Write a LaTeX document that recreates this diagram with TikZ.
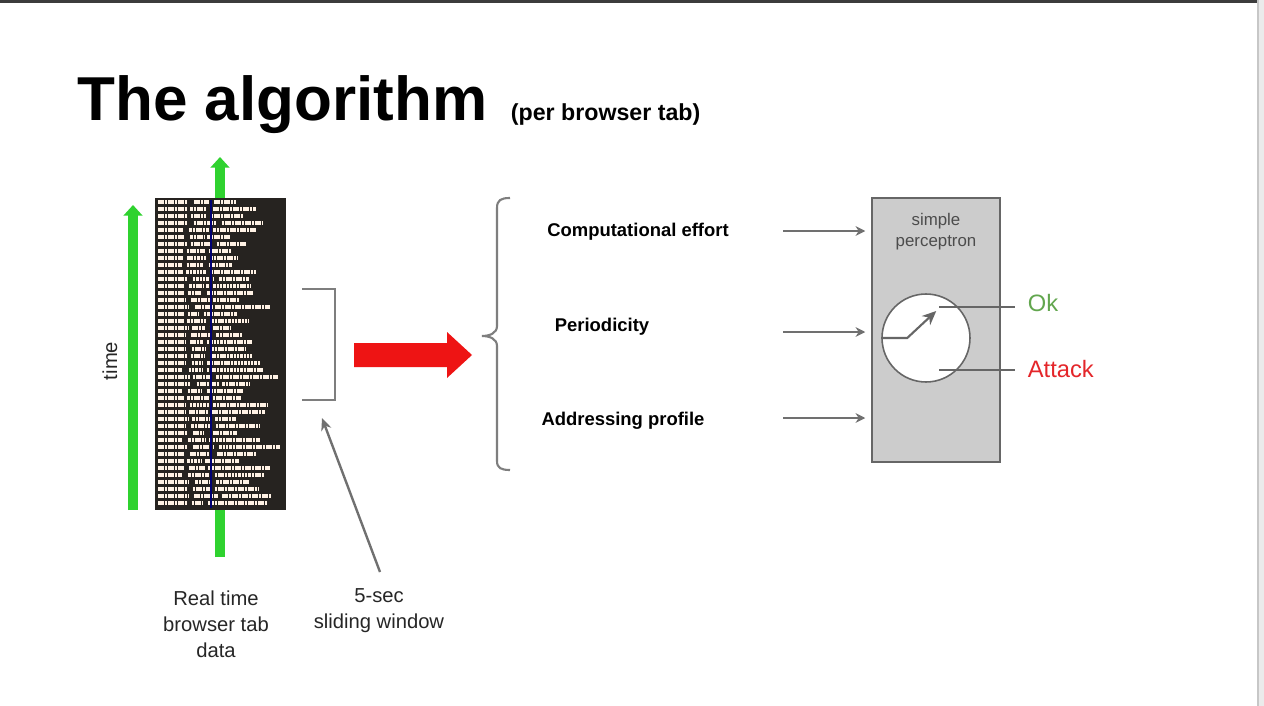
\documentclass[tikz,border=0pt]{standalone}
\usepackage{fontspec}
\setmainfont{Liberation Sans}
\usetikzlibrary{arrows.meta, positioning, calc}

\definecolor{barc}{HTML}{3C3C3C}
\definecolor{stripc}{HTML}{EBEBEB}
\definecolor{imgc}{HTML}{262320}
\definecolor{grnc}{HTML}{2FD22F}
\definecolor{redc}{HTML}{EE1414}
\definecolor{linec}{HTML}{707070}
\definecolor{boxc}{HTML}{CCCCCC}
\definecolor{okc}{HTML}{62A64E}
\definecolor{atkc}{HTML}{E4262A}

\begin{document}
\begin{tikzpicture}[x=0.02cm, y=-0.02cm, >={Stealth[round]},
      lbl/.style={font=\fontsize{11.5}{14.7}\selectfont, align=center, text=black!85},
      feat/.style={font=\bfseries\fontsize{10.5}{12}\selectfont},
      gline/.style={draw=linec, line width=1.35pt},
      garrow/.style={gline, -{Stealth[length=5.5pt, width=5.5pt]}, shorten >=3.4pt},
      brk/.style={draw=linec!90, line width=1.2pt},
      grnarrow/.style={draw=grnc, line width=5.2pt, -{Triangle[length=6pt, width=10.5pt]}},
      datatxt/.style={draw=white!90!orange, line width=2.5pt, dash pattern=on 1.5pt off 0.4pt},
      percbox/.style={draw=black!60, fill=boxc, line width=0.9pt, minimum width=2.56cm, minimum height=5.28cm},
      dial/.style={circle, draw=black!60, fill=white, line width=0.9pt, minimum size=1.76cm},
      outtxt/.style={font=\fontsize{13.5}{15}\selectfont, anchor=west, inner sep=2pt}]
  % frame of the slide
  \useasboundingbox (0,0) rectangle (1264,706);
  \fill[white] (0,0) rectangle (1264,706);
  \fill[barc] (0,0) rectangle (1258,3.5);
  \fill[stripc] (1258,0) rectangle (1264,706);
  \draw[black!22, line width=0.8pt] (1258,0) -- (1258,706);

  % title
  \node[anchor=base west, inner sep=0, font=\bfseries\fontsize{35.3}{40}\selectfont] (title) at (77,120) {The algorithm};
  \node[base right=13pt of title, inner sep=0, font=\bfseries\fontsize{13.2}{15}\selectfont] (subtitle) {(per browser tab)};

  % browser tab data
  \coordinate (time_lo) at (133,510);
  \coordinate (time_hi) at (133,205);
  \coordinate (tab_lo) at (220,557);
  \coordinate (tab_hi) at (220,157);
  \draw[grnarrow] (time_lo) -- (time_hi);
  \draw[grnarrow] (tab_lo) -- (tab_hi);
  \node[rotate=90, lbl] (time) at (110,361) {time};
  \node[fill=imgc, minimum width=2.62cm, minimum height=6.24cm, inner sep=0] (data) at (220.5,354) {};
  \begin{scope}
    \clip (data.north west) rectangle (data.south east);
    \pgfmathsetseed{11}
    \foreach \r in {0,...,43}{
      \pgfmathsetmacro{\yy}{202+7*\r}
      \pgfmathsetmacro{\xa}{182+8*rnd}
      \pgfmathsetmacro{\xb}{\xa+3+4*rnd}
      \pgfmathsetmacro{\xc}{\xb+10+14*rnd}
      \pgfmathsetmacro{\xd}{\xc+3+3*rnd}
      \pgfmathsetmacro{\xe}{\xd+20+42*rnd}
      \draw[datatxt] (158,\yy) -- (\xa,\yy) (\xb,\yy) -- (\xc,\yy) (\xd,\yy) -- (\xe,\yy);
    }
    \draw[blue!45!black, line width=0.8pt] (211,200) -- (211,508);
  \end{scope}
  \node[lbl] (rt_lbl) at (216,624) {Real time\\browser tab\\data};

  % sliding window
  \coordinate (win_t) at (302,289);
  \coordinate (win_b) at (302,400);
  \draw[brk] (win_t) -- ++(33,0) |- (win_b);
  \coordinate (ptr_tail) at (380,572);
  \coordinate (ptr_tip) at (322,418);
  \draw[gline, -{Stealth[length=7pt, width=6pt]}] (ptr_tail) -- (ptr_tip);
  \node[lbl] (win_lbl) at (379,611) {5-sec\\sliding window};

  % red arrow
  \fill[redc] (354,343) -- (447,343) -- (447,332) -- (472,355) -- (447,378) -- (447,367) -- (354,367) -- cycle;

  % features
  \draw[brk] (510,198) .. controls (501,198) and (497,200) .. (497,208) -- (497,326)
    .. controls (497,333) and (490,336) .. (482,336) .. controls (490,336) and (497,339) .. (497,346)
    -- (497,461) .. controls (497,468) and (501,470) .. (510,470);
  \node[feat] (f_ce) at (638,232) {Computational effort};
  \node[feat] (f_per) at (602,327) {Periodicity};
  \node[feat] (f_addr) at (623,421) {Addressing profile};

  % perceptron
  \node[percbox] (perc) at (936,330) {};
  \node[font=\fontsize{9.6}{11.9}\selectfont, text=black!70, align=center] (perc_lbl) at (936,232) {simple\\perceptron};
  \coordinate (in_1) at (783,231);
  \coordinate (in_2) at (783,332);
  \coordinate (in_3) at (783,418);
  \foreach \i in {1,2,3}
    \draw[garrow] (in_\i) -- (in_\i -| perc.west);
  \node[dial] (dial) at (926,338) {};
  \draw[draw=black!60, line width=1.2pt, -{Stealth[length=8pt, width=7pt]}] (dial.west) -- ++(26,0) -- ++(29,-27);
  \node[outtxt, text=okc] (ok) at (1024,303) {Ok};
  \node[outtxt, text=atkc] (atk) at (1024,369) {Attack};
  \coordinate (ok_in) at (939,307);
  \coordinate (atk_in) at (939,370);
  \draw[gline, draw=black!60, shorten >=5pt] (ok_in) -- (ok_in -| ok.west);
  \draw[gline, draw=black!60, shorten >=5pt] (atk_in) -- (atk_in -| atk.west);
\end{tikzpicture}
\end{document}
